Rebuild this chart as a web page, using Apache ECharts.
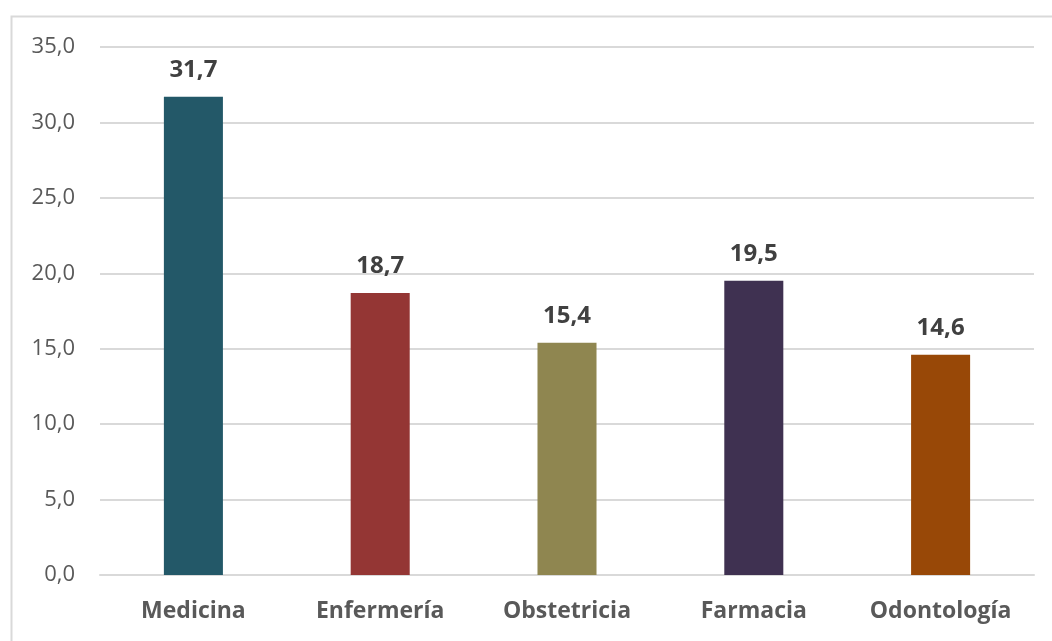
<!DOCTYPE html>
<html><head><meta charset="utf-8">
<script src="https://cdn.jsdelivr.net/npm/echarts@6/dist/echarts.min.js"></script>
<style>html,body{margin:0;padding:0;background:#fff}#c{width:1052px;height:641px}</style>
</head><body><div id="c"></div>
<script>
const categories = ['Medicina', 'Enfermería', 'Obstetricia', 'Farmacia', 'Odontología'];
const values = [31.7, 18.7, 15.4, 19.5, 14.6];
const barColors = ['#235868', '#943634', '#8F8650', '#3F3151', '#984807'];
const yTicks = { min: 0, max: 35, interval: 5 };

const fmt = v => v.toFixed(1).replace('.', ',');
const chart = echarts.init(document.getElementById('c'));
chart.setOption({
  animation: false,
  backgroundColor: '#fff',
  graphic: [{
    type: 'rect', left: 9, top: 14, shape: { width: 1100, height: 700 },
    style: { fill: 'none', stroke: '#d9d9d9', lineWidth: 2 }, silent: true, z: -1
  }],
  grid: { left: 100, right: 18, top: 47, bottom: 66 },
  xAxis: {
    type: 'category', data: categories,
    axisLine: { show: true, lineStyle: { color: '#d9d9d9', width: 2 } },
    axisTick: { show: false },
    axisLabel: { color: '#595959', fontFamily: 'Open Sans', fontWeight: 'bold', fontSize: 23, margin: 25 }
  },
  yAxis: {
    type: 'value', min: yTicks.min, max: yTicks.max, interval: yTicks.interval,
    axisLine: { show: false }, axisTick: { show: false },
    splitLine: { lineStyle: { color: '#d9d9d9', width: 2 } },
    axisLabel: { color: '#595959', fontFamily: 'Open Sans', fontSize: 22, margin: 25, formatter: fmt }
  },
  series: [{
    type: 'bar', barWidth: '31.6%',
    data: values.map((v, i) => ({ value: v, itemStyle: { color: barColors[i] } })),
    label: { show: true, position: 'top', distance: 15, color: '#404040', fontFamily: 'Open Sans', fontWeight: 'bold', fontSize: 24,
      formatter: p => fmt(p.value) }
  }]
});
</script></body></html>
